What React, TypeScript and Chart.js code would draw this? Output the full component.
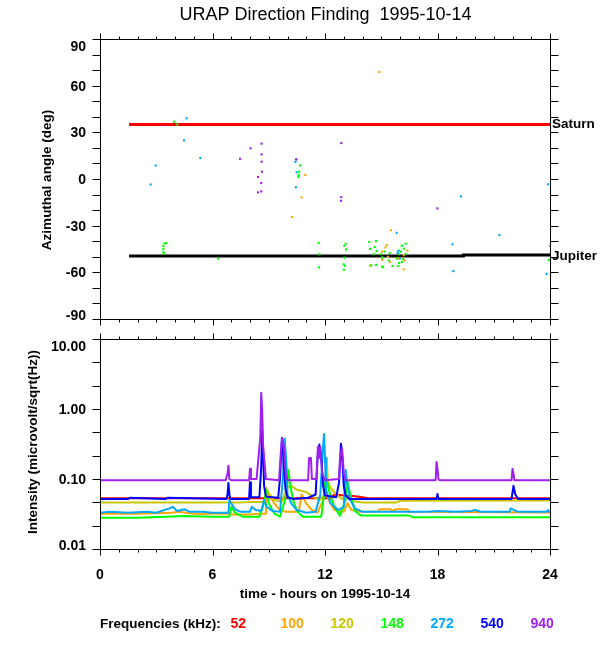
import { useEffect, useRef } from "react";
import { Chart, registerables } from "chart.js";

Chart.register(...registerables);

// ---------- labels / ticks ----------
const titleText = "URAP Direction Finding  1995-10-14";
const xTitle = "time - hours on 1995-10-14";
const topYTitle = "Azimuthal angle (deg)";
const botYTitle = "Intensity (microvolt/sqrt(Hz))";
const hourLabels = [0, 6, 12, 18, 24];
const hourMarks = [0, 1, 2, 3, 4, 5, 6, 7, 8, 9, 10, 11, 12, 13, 14, 15, 16, 17, 18, 19, 20, 21, 22, 23, 24];
const angleLabels = [-90, -60, -30, 0, 30, 60, 90];
const angleMarks = [-90, -80, -70, -60, -50, -40, -30, -20, -10, 0, 10, 20, 30, 40, 50, 60, 70, 80, 90];
const intensityValues = [0.01, 0.1, 1, 10];
const intensityLabels = ["0.01", "0.10", "1.00", "10.00"];
const intensityMarks = [0.01, 0.0215, 0.0464, 0.1, 0.215, 0.464, 1, 2.15, 4.64, 10];
const freqLabels = ["52", "100", "120", "148", "272", "540", "940"];
const freqColors = ["#FF0000", "#FFA500", "#C8C800", "#00FF00", "#00A8FF", "#0000FF", "#A020F0"];

// ---------- top panel: planets ----------
const saturnLine: [number, number][] = [[1.55, 35], [24, 35]];
const jupiterLine: [number, number][] = [[1.55, -49.5], [19.38, -49.5], [19.38, -48.9], [24, -48.9]];

// ---------- top panel: direction finding points (hour, deg) ----------
const az100: [number, number][] = [
  [10.95, 2.6], [10.75, -11.8], [10.24, -24.4], [14.9, 68.8], [15.52, -33], [15.22, -44], [15.04, -46.7],
  [15.3, -42.6], [15.04, -52], [15.35, -50], [15.47, -53.4], [15.08, -51], [15.93, -51], [16.12, -50.8],
  [16.2, -49], [16.4, -46], [16.25, -52.3], [16.2, -58.1], [14.4, -55.7],
];
const az148: [number, number][] = [
  [3.95, 36.8], [4.12, 35.1], [3.45, -41.3], [3.52, -41.3], [3.38, -43], [3.38, -45], [3.38, -47], [3.4, -47.8],
  [6.29, -51.2], [10.67, 8.8], [10.62, 4.7], [10.6, 2.6], [10.58, 1.3], [11.66, -41.1], [11.7, -48.4],
  [11.68, -56.8], [13.1, -41.6], [13.03, -43], [13.12, -45.3], [13.03, -50.6], [13.0, -54.9], [13.06, -55.8],
  [13.0, -58.3], [14.36, -40.5], [14.72, -39.9], [14.4, -45], [14.65, -43.7], [14.76, -46.3], [14.6, -48.3],
  [14.97, -48.3], [15.05, -50.4], [14.72, -55.3], [15.05, -56.3], [15.1, -56.7], [14.47, -55.5], [15.6, -56],
  [15.9, -56], [16.1, -42.9], [16.3, -41.6], [16.2, -44.8], [16.05, -46.7], [15.95, -48.3], [16.3, -48.3],
  [15.84, -51.2], [15.95, -54], [16.1, -53.4], [16.17, -51.5], [15.95, -46], [15.45, -47.5], [15.18, -46.7],
  [15.4, -52.3], [24, -43], [23.95, -52],
];
const az272: [number, number][] = [
  [2.7, -3.5], [2.97, 8.7], [4.48, 24.8], [4.62, 39], [5.35, 13.5], [10.49, 12.6], [10.42, 10.9], [10.49, 4.3],
  [10.45, -5.3], [15.82, -34.6], [15.9, -46.4], [16.0, -51], [15.87, -47.5], [18.8, -42], [18.84, -59.2],
  [19.25, -11.2], [21.3, -36], [23.82, -61], [23.9, -3.4],
];
const az940: [number, number][] = [
  [7.47, 13], [8.03, 19.7], [8.62, 22.7], [8.62, 15.8], [8.62, 11.1], [8.64, 4.7], [8.43, 1.3], [8.6, -2.6],
  [8.43, -8.6], [8.6, -8], [10.45, 12.6], [12.87, 23.1], [12.87, -11.6], [12.85, -14], [17.99, -18.9],
];

// ---------- bottom panel: intensity series (hour, value) ----------
const t52 = [0, 6.8, 8.9, 9.0, 9.1, 12.3, 12.5, 13.0, 13.5, 14.0, 14.3, 24];
const v52 = [0.053, 0.053, 0.053, 0.057, 0.053, 0.053, 0.06, 0.058, 0.057, 0.055, 0.053, 0.053];

const t100 = [0, 2, 3.8, 4.2, 5, 6.85, 7.0, 8.0, 8.5, 8.8, 8.85, 9.0, 9.3, 9.6, 9.9, 10.6, 10.75, 11.0, 11.3, 11.6,
  11.9, 12.0, 12.2, 12.5, 13.0, 13.2, 13.4, 14.0, 14.8, 14.9, 15.5, 15.6, 15.8, 16.4, 16.5, 24];
const v100 = [0.032, 0.032, 0.033, 0.034, 0.032, 0.032, 0.031, 0.031, 0.032, 0.032, 0.075, 0.06, 0.045, 0.036, 0.034,
  0.034, 0.06, 0.045, 0.036, 0.033, 0.05, 0.07, 0.05, 0.036, 0.034, 0.045, 0.036, 0.034, 0.034, 0.037, 0.037, 0.035,
  0.037, 0.037, 0.034, 0.0333];

const t120 = [0, 6.8, 7.5, 8.0, 8.8, 8.9, 9.05, 9.3, 9.7, 10.0, 10.2, 10.5, 11.0, 11.4, 11.7, 12.0, 12.1, 12.15, 12.3,
  12.6, 12.9, 13.2, 13.5, 14.0, 15.8, 16.0, 24];
const v120 = [0.046, 0.046, 0.046, 0.047, 0.047, 0.07, 0.06, 0.05, 0.048, 0.075, 0.08, 0.07, 0.065, 0.055, 0.05, 0.06,
  0.2, 0.09, 0.075, 0.06, 0.052, 0.055, 0.048, 0.046, 0.046, 0.049, 0.0495];

const t148 = [0, 2, 3.5, 4.5, 6.0, 6.9, 7.0, 7.2, 7.6, 8.5, 8.75, 8.85, 9.0, 9.3, 9.6, 9.95, 10.05, 10.15, 10.3, 10.5,
  10.8, 11.8, 11.95, 12.05, 12.2, 12.5, 12.8, 13.1, 13.2, 13.35, 13.6, 13.9, 16.5, 16.7, 24];
const v148 = [0.028, 0.028, 0.029, 0.0295, 0.029, 0.029, 0.04, 0.033, 0.029, 0.029, 0.045, 0.07, 0.045, 0.032, 0.029,
  0.06, 0.136, 0.08, 0.05, 0.035, 0.029, 0.029, 0.06, 0.12, 0.07, 0.04, 0.03, 0.05, 0.093, 0.06, 0.035, 0.03, 0.03,
  0.0283, 0.0285];

const t272 = [0, 0.5, 1.5, 2.5, 3.0, 3.7, 3.9, 4.1, 4.5, 4.8, 5.5, 6.0, 6.85, 6.9, 7.0, 7.2, 7.5, 8.0, 8.1, 8.3, 8.6,
  8.75, 8.9, 9.2, 9.6, 9.75, 9.85, 9.95, 10.0, 10.2, 10.5, 11.0, 11.5, 11.75, 11.9, 11.95, 12.0, 12.05, 12.3, 12.7,
  13.0, 13.1, 13.2, 13.35, 13.6, 14.0, 16, 17.5, 18.0, 19, 19.8, 20, 20.3, 21.85, 21.9, 22.1, 22.3, 23, 23.8, 23.9, 24];
const v272 = [0.033, 0.034, 0.033, 0.034, 0.033, 0.038, 0.04, 0.035, 0.037, 0.034, 0.034, 0.033, 0.033, 0.05, 0.045,
  0.037, 0.034, 0.034, 0.04, 0.036, 0.035, 0.05, 0.04, 0.035, 0.034, 0.1, 0.38, 0.15, 0.06, 0.045, 0.036, 0.033, 0.034,
  0.06, 0.3, 0.44, 0.2, 0.07, 0.045, 0.036, 0.04, 0.136, 0.08, 0.05, 0.038, 0.034, 0.034, 0.034, 0.035, 0.034, 0.035,
  0.036, 0.034, 0.034, 0.038, 0.036, 0.034, 0.034, 0.034, 0.036, 0.033];

const t540 = [0, 1.5, 1.6, 3.5, 3.6, 6.75, 6.8, 6.85, 6.9, 6.95, 7.95, 8.0, 8.05, 8.5, 8.6, 8.65, 8.7, 8.75, 8.85, 9.5,
  9.6, 9.7, 9.75, 9.8, 9.9, 10.0, 10.3, 11.1, 11.5, 11.6, 11.7, 11.8, 11.9, 12.0, 12.6, 12.75, 12.85, 12.9, 13.0, 13.1,
  13.3, 17.95, 18.0, 18.05, 21.95, 22.05, 22.15, 22.3, 24];
const v540 = [0.052, 0.052, 0.054, 0.052, 0.054, 0.052, 0.06, 0.088, 0.06, 0.052, 0.052, 0.09, 0.055, 0.055, 0.15, 0.5,
  0.25, 0.08, 0.056, 0.054, 0.1, 0.385, 0.3, 0.15, 0.07, 0.055, 0.052, 0.054, 0.06, 0.2, 0.31, 0.2, 0.08, 0.058, 0.055,
  0.09, 0.32, 0.25, 0.08, 0.058, 0.052, 0.052, 0.061, 0.052, 0.052, 0.08, 0.06, 0.052, 0.052];

const t940 = [0, 6.7, 6.8, 6.85, 6.9, 7.0, 7.95, 8.0, 8.05, 8.35, 8.45, 8.55, 8.6, 8.65, 8.7, 8.75, 8.85, 9.55, 9.65,
  9.72, 9.8, 9.9, 10.0, 11.1, 11.15, 11.25, 11.3, 11.55, 11.62, 11.68, 11.75, 11.85, 12.0, 12.75, 12.8, 12.9, 12.95,
  13.0, 13.1, 17.9, 17.95, 18.0, 18.05, 18.1, 21.95, 22.0, 22.05, 22.1, 24];
const v940 = [0.096, 0.096, 0.12, 0.155, 0.1, 0.096, 0.096, 0.14, 0.1, 0.1, 0.2, 0.4, 1.7, 0.9, 0.3, 0.2, 0.1, 0.096,
  0.25, 0.385, 0.3, 0.12, 0.096, 0.096, 0.2, 0.2, 0.1, 0.1, 0.29, 0.2, 0.29, 0.12, 0.096, 0.1, 0.2, 0.28, 0.2, 0.12,
  0.096, 0.096, 0.175, 0.14, 0.1, 0.096, 0.096, 0.14, 0.12, 0.096, 0.096];

const seriesT = [t52, t100, t120, t148, t272, t540, t940];
const seriesV = [v52, v100, v120, v148, v272, v540, v940];

const FONT_FAMILY = '"Liberation Sans", Arial, Helvetica, sans-serif';
const NUM_FONT = `bold 14px ${FONT_FAMILY}`;
const WORD_FONT = `bold 13.5px ${FONT_FAMILY}`;

function pts(arr: [number, number][]) {
  return arr.map(([x, y]) => ({ x, y }));
}
function zip(t: number[], v: number[]) {
  return t.map((x, i) => ({ x, y: v[i] }));
}

function vText(ctx: CanvasRenderingContext2D, text: string, x: number, y: number) {
  ctx.save();
  ctx.translate(x, y);
  ctx.rotate(-Math.PI / 2);
  ctx.textAlign = "center";
  ctx.textBaseline = "alphabetic";
  ctx.fillText(text, 0, 0);
  ctx.restore();
}

function drawFrame(chart: any, yMarks: number[], yVals: number[], yLabs: string[]) {
  const ctx: CanvasRenderingContext2D = chart.ctx;
  const { left, right, top, bottom } = chart.chartArea;
  const xs = chart.scales.x;
  const ys = chart.scales.y;
  const L = Math.round(left) + 0.5;
  const R = Math.round(right) + 0.5;
  const T = Math.round(top) + 0.5;
  const B = Math.round(bottom) + 0.5;
  ctx.save();
  ctx.strokeStyle = "#000";
  ctx.lineWidth = 1;
  ctx.beginPath();
  ctx.rect(L, T, R - L, B - T);
  for (const h of hourMarks) {
    const px = Math.round(xs.getPixelForValue(h)) + 0.5;
    const len = h % 6 === 0 ? 6 : 3;
    ctx.moveTo(px, T);
    ctx.lineTo(px, T - len);
    ctx.moveTo(px, B);
    ctx.lineTo(px, B + len);
  }
  for (const v of yMarks) {
    const py = Math.round(ys.getPixelForValue(v)) + 0.5;
    ctx.moveTo(L, py);
    ctx.lineTo(L - 8, py);
    ctx.moveTo(R, py);
    ctx.lineTo(R + 8, py);
  }
  ctx.stroke();
  ctx.fillStyle = "#000";
  ctx.font = NUM_FONT;
  ctx.textAlign = "right";
  ctx.textBaseline = "alphabetic";
  yVals.forEach((v, i) => {
    const py = ys.getPixelForValue(v);
    let base = py + 5;
    if (i === yVals.length - 1) base = top + 11.5;
    if (i === 0) base = bottom + 0.7;
    ctx.fillText(yLabs[i], 86, base);
  });
  ctx.restore();
}

const topPlugin = {
  id: "topFrame",
  afterDraw(chart: any) {
    drawFrame(chart, angleMarks, angleLabels, angleLabels.map(String));
    const ctx: CanvasRenderingContext2D = chart.ctx;
    const ys = chart.scales.y;
    ctx.save();
    ctx.fillStyle = "#000";
    ctx.font = `18px ${FONT_FAMILY}`;
    ctx.textAlign = "center";
    ctx.textBaseline = "alphabetic";
    ctx.fillText(titleText, 325.5, 20);
    ctx.font = WORD_FONT;
    vText(ctx, topYTitle, 50.5, 180);
    ctx.textAlign = "left";
    ctx.fillText("Saturn", 552, ys.getPixelForValue(saturnLine[0][1]) + 3.5);
    ctx.fillText("Jupiter", 552, ys.getPixelForValue(jupiterLine[3][1]) + 4.5);
    ctx.restore();
  },
};

const bottomPlugin = {
  id: "bottomFrame",
  afterDraw(chart: any) {
    drawFrame(chart, intensityMarks, intensityValues, intensityLabels);
    const ctx: CanvasRenderingContext2D = chart.ctx;
    const xs = chart.scales.x;
    ctx.save();
    ctx.fillStyle = "#000";
    ctx.font = NUM_FONT;
    ctx.textAlign = "center";
    ctx.textBaseline = "alphabetic";
    for (const h of hourLabels) {
      ctx.fillText(String(h), xs.getPixelForValue(h), 579);
    }
    ctx.font = WORD_FONT;
    ctx.fillText(xTitle, 325, 598);
    vText(ctx, botYTitle, 37, 442);
    ctx.textAlign = "left";
    ctx.fillText("Frequencies (kHz):", 100, 627.5);
    ctx.font = NUM_FONT;
    freqLabels.forEach((f, i) => {
      ctx.fillStyle = freqColors[i];
      ctx.fillText(f, 230.5 + 50 * i, 627.5);
    });
    ctx.restore();
  },
};

export default function App() {
  const topRef = useRef<HTMLCanvasElement>(null);
  const botRef = useRef<HTMLCanvasElement>(null);

  useEffect(() => {
    const common: any = {
      responsive: false,
      animation: false,
      events: [],
      plugins: { legend: { display: false }, tooltip: { enabled: false }, title: { display: false } },
    };

    const topChart = new Chart(topRef.current!, {
      type: "scatter",
      data: {
        datasets: [
          { type: "line", data: pts(saturnLine), borderColor: "#FF0000", borderWidth: 3, pointRadius: 0, order: 10 } as any,
          { type: "line", data: pts(jupiterLine), borderColor: "#000000", borderWidth: 3, pointRadius: 0, order: 10 } as any,
          { data: pts(az100), backgroundColor: freqColors[1], borderWidth: 0, pointStyle: "rect", pointRadius: 1.5, order: 4 },
          { data: pts(az148), backgroundColor: freqColors[3], borderWidth: 0, pointStyle: "rect", pointRadius: 1.5, order: 3 },
          { data: pts(az272), backgroundColor: freqColors[4], borderWidth: 0, pointStyle: "rect", pointRadius: 1.5, order: 2 },
          { data: pts(az940), backgroundColor: freqColors[6], borderWidth: 0, pointStyle: "rect", pointRadius: 1.5, order: 1 },
        ],
      },
      options: {
        ...common,
        layout: { padding: { left: 100, right: 50, top: 39, bottom: 331 } },
        scales: {
          x: { type: "linear", min: 0, max: 24, display: false },
          y: { type: "linear", min: -90, max: 90, display: false },
        },
      },
      plugins: [topPlugin],
    });

    const botChart = new Chart(botRef.current!, {
      type: "line",
      data: {
        datasets: seriesT.map((t, i) => ({
          data: zip(t, seriesV[i]),
          borderColor: freqColors[i],
          borderWidth: 2,
          borderJoinStyle: "round",
          pointRadius: 0,
          tension: 0,
          order: 6 - i,
        })) as any,
      },
      options: {
        ...common,
        layout: { padding: { left: 100, right: 50, top: 339, bottom: 101 } },
        scales: {
          x: { type: "linear", min: 0, max: 24, display: false },
          y: { type: "logarithmic", min: 0.01, max: 10, display: false },
        },
      },
      plugins: [bottomPlugin],
    });

    return () => {
      topChart.destroy();
      botChart.destroy();
    };
  }, []);

  return (
    <div style={{ position: "absolute", left: 0, top: 0, width: 600, height: 650, background: "#fff" }}>
      <canvas ref={botRef} width={600} height={650} style={{ position: "absolute", left: 0, top: 0 }} />
      <canvas ref={topRef} width={600} height={650} style={{ position: "absolute", left: 0, top: 0 }} />
    </div>
  );
}
